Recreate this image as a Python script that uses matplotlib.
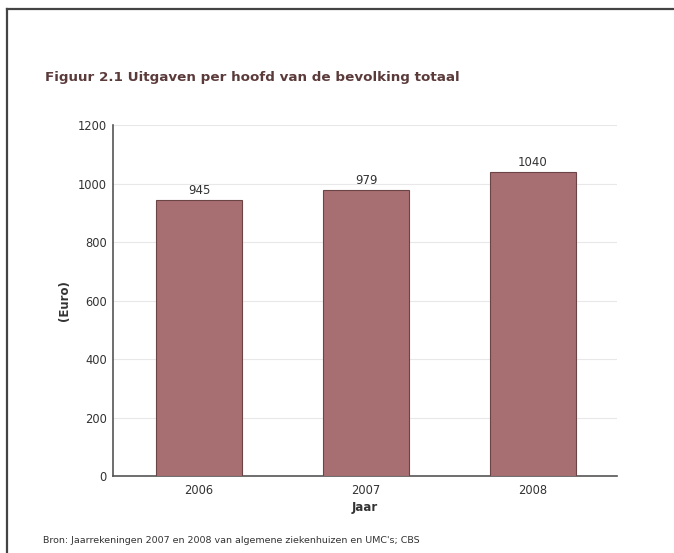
import matplotlib
matplotlib.use("Agg")
import matplotlib.pyplot as plt
from matplotlib.lines import Line2D

years = ["2006", "2007", "2008"]
spending = [945, 979, 1040]
y_ticks = [0, 200, 400, 600, 800, 1000, 1200]

TITLE = "Figuur 2.1 Uitgaven per hoofd van de bevolking totaal"
SOURCE = "Bron: Jaarrekeningen 2007 en 2008 van algemene ziekenhuizen en UMC's; CBS"

BAR_COLOR = "#a86f72"
EDGE_COLOR = "#6b4545"
TEXT_COLOR = "#333333"

fig = plt.figure(figsize=(6.74, 5.53), dpi=100)
ax = fig.add_axes([0.1677, 0.1392, 0.7478, 0.6347])

x = list(range(len(years)))
ax.bar(x, spending, width=0.515, color=BAR_COLOR, edgecolor=EDGE_COLOR, linewidth=0.8, zorder=3)
for xi, v in zip(x, spending):
    ax.text(xi, v + 8, str(v), ha="center", va="bottom", fontsize=8.5, color=TEXT_COLOR)

ax.set_xlim(-0.515, 2.503)
ax.set_ylim(0, 1200)
ax.set_xticks(x)
ax.set_xticklabels(years)
ax.set_yticks(y_ticks)
ax.tick_params(axis="both", labelsize=8.3, colors=TEXT_COLOR, length=0)
ax.tick_params(axis="x", pad=5.5)
ax.tick_params(axis="y", pad=4.5)
ax.grid(axis="y", color="#e8e8e8", linewidth=0.8, zorder=0)

for side in ["top", "right"]:
    ax.spines[side].set_visible(False)
for side in ["left", "bottom"]:
    ax.spines[side].set_color("#555555")
    ax.spines[side].set_linewidth(1.2)

ax.set_xlabel("Jaar", fontsize=8.5, fontweight="bold", color=TEXT_COLOR, labelpad=3)
ax.set_ylabel("(Euro)", fontsize=8.5, fontweight="bold", color=TEXT_COLOR, labelpad=5)

fig.text(0.0668, 0.859, TITLE, fontsize=9.7, fontweight="bold", color="#5b3a3a", ha="left", va="center")
fig.text(0.0638, 0.0235, SOURCE, fontsize=6.8, color=TEXT_COLOR, ha="left", va="center")

# frame lines at top and left, as in the scanned page
fig.add_artist(Line2D([0.011, 1.0], [0.984, 0.984], color="#444444", linewidth=1.6))
fig.add_artist(Line2D([0.011, 0.011], [0.0, 0.984], color="#444444", linewidth=1.6))

fig.savefig("out.png", dpi=100)
